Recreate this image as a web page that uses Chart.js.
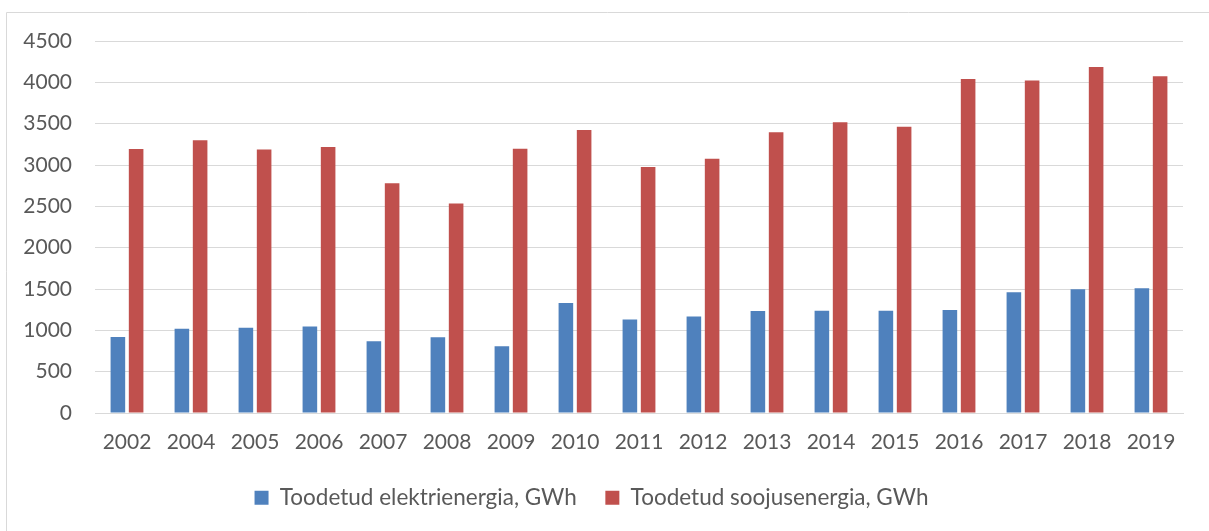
<!DOCTYPE html>
<html>
<head>
<meta charset="utf-8">
<script src="https://cdn.jsdelivr.net/npm/chart.js@4.4.0/dist/chart.umd.min.js"></script>
<style>
  html, body { margin:0; padding:0; background:#fff; }
  #wrap { position:relative; width:1209px; height:531px; }
</style>
</head>
<body>
<div id="wrap"><canvas id="chart" width="1209" height="531"></canvas></div>
<script>
// Produced electricity / heat, GWh
const years = ['2002','2004','2005','2006','2007','2008','2009','2010','2011','2012','2013','2014','2015','2016','2017','2018','2019'];
const electricity = [920, 1020, 1032, 1045, 867, 915, 807, 1331, 1131, 1166, 1234, 1238, 1238, 1246, 1460, 1496, 1508];
const heat = [3194, 3299, 3186, 3218, 2779, 2533, 3198, 3424, 2977, 3077, 3396, 3517, 3464, 4041, 4021, 4186, 4073];
const seriesNames = ['Toodetud elektrienergia, GWh', 'Toodetud soojusenergia, GWh'];
const yTicks = [0, 500, 1000, 1500, 2000, 2500, 3000, 3500, 4000, 4500];

const textColor = '#595959';
const gridColor = '#d9d9d9';
const fontFamily = 'Lato, "Open Sans", sans-serif';

// outer frame (top + left edge only, like the cropped Excel chart)
const framePlugin = {
  id:'frame',
  beforeDraw(chart){
    const c = chart.ctx;
    c.save();
    c.strokeStyle = gridColor; c.lineWidth = 1;
    c.beginPath();
    c.moveTo(6.5, chart.height); c.lineTo(6.5, 12.5); c.lineTo(chart.width, 12.5);
    c.stroke();
    c.restore();
  }
};

new Chart(document.getElementById('chart'), {
  type:'bar',
  data:{
    labels: years,
    datasets:[
      { label: seriesNames[0], data: electricity, backgroundColor:'#4f81bd', borderWidth:0 },
      { label: seriesNames[1], data: heat, backgroundColor:'#c0504d', borderWidth:0 }
    ]
  },
  options:{
    responsive:false,
    animation:false,
    layout:{ padding:{ left:0, right:26, top:41, bottom:12 } },
    datasets:{ bar:{ categoryPercentage:0.57, barPercentage:0.8 } },
    plugins:{
      legend:{
        position:'bottom',
        labels:{ color:textColor, font:{ family:fontFamily, size:22.5 }, boxWidth:14, boxHeight:14, padding:28.5 }
      },
      tooltip:{ enabled:false }
    },
    scales:{
      x:{
        grid:{ display:false, drawTicks:false },
        border:{ display:true, color:gridColor, width:1 },
        ticks:{ color:textColor, font:{ family:fontFamily, size:21 }, padding:17, maxRotation:0, autoSkip:false },
        afterFit(s){ s.height = 45; }
      },
      y:{
        min:0, max:4500,
        afterBuildTicks(s){ s.ticks = yTicks.map(v => ({ value:v })); },
        grid:{ color:gridColor, lineWidth:1, drawTicks:false },
        border:{ display:false },
        ticks:{ color:textColor, font:{ family:fontFamily, size:21 }, padding:23, callback:v => String(v) },
        afterFit(s){ s.width = 95; }
      }
    }
  },
  plugins:[framePlugin]
});
</script>
</body>
</html>
